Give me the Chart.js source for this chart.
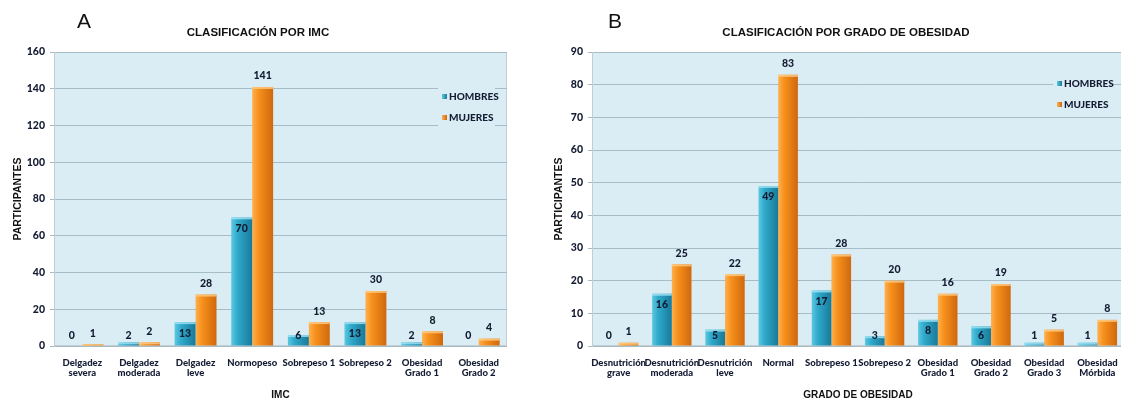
<!DOCTYPE html>
<html lang="es">
<head>
<meta charset="utf-8">
<title>Clasificación por IMC y por grado de obesidad</title>
<script src="https://cdn.jsdelivr.net/npm/chart.js@4.4.1/dist/chart.umd.min.js"></script>
<style>
  html, body { margin: 0; padding: 0; background: #fff; overflow: hidden; width: 1121px; height: 401px; }
  canvas { position: absolute; top: 0; }
  #graficoIMC { left: 0; }
  #graficoObesidad { left: 548px; }
</style>
</head>
<body>
<canvas id="graficoIMC" width="548" height="401"></canvas>
<canvas id="graficoObesidad" width="587" height="401"></canvas>
<script>
// Datos del gráfico A (clasificación por IMC)
const categoriasIMC = [
  ["Delgadez", "severa"], ["Delgadez", "moderada"], ["Delgadez", "leve"], "Normopeso",
  "Sobrepeso 1", "Sobrepeso 2", ["Obesidad", "Grado 1"], ["Obesidad", "Grado 2"]
];
const hombresIMC = [0, 2, 13, 70, 6, 13, 2, 0];
const mujeresIMC = [1, 2, 28, 141, 13, 30, 8, 4];
const ticksIMC = [0, 20, 40, 60, 80, 100, 120, 140, 160];

// Datos del gráfico B (clasificación por grado de obesidad)
const categoriasObesidad = [
  ["Desnutrición", "grave"], ["Desnutrición", "moderada"], ["Desnutrición", "leve"], "Normal",
  "Sobrepeso 1", "Sobrepeso 2", ["Obesidad", "Grado 1"], ["Obesidad", "Grado 2"],
  ["Obesidad", "Grado 3"], ["Obesidad", "Mórbida"]
];
const hombresObesidad = [0, 16, 5, 49, 17, 3, 8, 6, 1, 1];
const mujeresObesidad = [1, 25, 22, 83, 28, 20, 16, 19, 5, 8];
const ticksObesidad = [0, 10, 20, 30, 40, 50, 60, 70, 80, 90];

// Colores y fuentes
const azul = ["#5cc8e2", "#30aacb", "#18799a"];
const naranja = ["#fdb150", "#f7911c", "#cf680d"];
const fondoGrafico = "#dbedf4";
const colorRejilla = "#a6bcc6";
const colorTexto = "#141c33";
const fuenteEstrecha = "Lato, 'DejaVu Sans Condensed', sans-serif";
const fuenteTitulo = "'Liberation Sans', Arial, sans-serif";
const pesoEstrecho = "900";

// Degradado horizontal para dar efecto de cilindro a cada barra
function degradado(c, colores) {
  if (c.type !== "data") return colores[1];
  const el = c.chart.getDatasetMeta(c.datasetIndex).data[c.dataIndex];
  if (!el || !isFinite(el.x) || !el.width) return colores[1];
  const g = c.chart.ctx.createLinearGradient(el.x - el.width / 2, 0, el.x + el.width / 2, 0);
  g.addColorStop(0, colores[0]);
  g.addColorStop(0.3, colores[1]);
  g.addColorStop(1, colores[2]);
  return g;
}

// Fondo del área del gráfico
const pluginFondo = {
  id: "fondo",
  beforeDraw(chart) {
    const { ctx, chartArea: a } = chart;
    ctx.save();
    ctx.fillStyle = fondoGrafico;
    ctx.fillRect(a.left, a.top, a.right - a.left, a.bottom - a.top);
    ctx.strokeStyle = "#c4cdd2";
    ctx.lineWidth = 1;
    ctx.strokeRect(a.left + 0.5, a.top + 0.5, a.right - a.left - 1, a.bottom - a.top - 1);
    ctx.restore();
  }
};

// Tapa clara arriba de cada barra y etiquetas de valores
const pluginEtiquetas = {
  id: "etiquetas",
  afterDatasetsDraw(chart) {
    const ctx = chart.ctx;
    ctx.save();
    chart.data.datasets.forEach((ds, i) => {
      const meta = chart.getDatasetMeta(i);
      meta.data.forEach((bar, j) => {
        const alto = bar.base - bar.y;
        if (alto > 0.5) {
          ctx.fillStyle = i === 0 ? "rgba(160,228,245,0.8)" : "rgba(255,205,135,0.8)";
          ctx.fillRect(bar.x - bar.width / 2, bar.y, bar.width, Math.min(2, alto));
        }
        let y;
        if (i === 0) y = Math.min(bar.y + 11, bar.base - 10);
        else y = bar.y - 11;
        ctx.fillStyle = colorTexto;
        ctx.font = pesoEstrecho + " 10.5px " + fuenteEstrecha;
        ctx.textAlign = "center";
        ctx.textBaseline = "middle";
        ctx.fillText(String(ds.data[j]), bar.x, y);
      });
    });
    ctx.restore();
  }
};

// Letra, título y leyenda dibujados sobre el lienzo
const pluginEncabezado = {
  id: "encabezado",
  afterDraw(chart, args, opts) {
    const ctx = chart.ctx;
    const a = chart.chartArea;
    ctx.save();
    ctx.fillStyle = "#111";
    ctx.textBaseline = "alphabetic";
    ctx.font = "21px " + fuenteTitulo;
    ctx.textAlign = "left";
    ctx.fillText(opts.letra, opts.letraX, 28);
    ctx.font = "bold 11.5px " + fuenteTitulo;
    ctx.textAlign = "center";
    ctx.fillText(opts.titulo, opts.tituloX, 36);

    // leyenda
    const x0 = a.right - opts.leyendaDerecha;
    const y0 = a.top + opts.leyendaArriba;
    ctx.fillStyle = fondoGrafico;
    ctx.fillRect(x0 - 4, y0 - 9, 57, 40);
    [["HOMBRES", azul], ["MUJERES", naranja]].forEach(([texto, col], k) => {
      const y = y0 + k * 21;
      const g = ctx.createLinearGradient(x0, 0, x0 + 5, 0);
      g.addColorStop(0, col[0]);
      g.addColorStop(1, col[2]);
      ctx.fillStyle = g;
      ctx.fillRect(x0, y - 3, 5, 5);
      ctx.fillStyle = colorTexto;
      ctx.font = pesoEstrecho + " 10px " + fuenteEstrecha;
      ctx.textAlign = "left";
      ctx.textBaseline = "middle";
      ctx.fillText(texto, x0 + 7, y);
    });
    ctx.restore();
  }
};

function crearGrafico(id, categorias, hombres, mujeres, ticks, tituloX, extra) {
  const chart = new Chart(document.getElementById(id).getContext("2d"), {
    type: "bar",
    data: {
      labels: categorias,
      datasets: [
        { label: "HOMBRES", data: hombres, backgroundColor: (c) => degradado(c, azul) },
        { label: "MUJERES", data: mujeres, backgroundColor: (c) => degradado(c, naranja) }
      ]
    },
    options: {
      responsive: false,
      animation: false,
      devicePixelRatio: 1,
      categoryPercentage: 0.74,
      barPercentage: 1,
      layout: { padding: extra.padding },
      plugins: {
        legend: { display: false },
        tooltip: { enabled: false },
        encabezado: extra.encabezado
      },
      scales: {
        x: {
          grid: { display: false, drawTicks: false },
          border: { display: false },
          ticks: {
            color: colorTexto,
            padding: 11,
            autoSkip: false,
            maxRotation: 0,
            font: { family: fuenteEstrecha, size: 9.5, weight: pesoEstrecho, lineHeight: 1.15 }
          },
          title: {
            display: true,
            text: tituloX,
            color: "#111",
            padding: { top: 0, bottom: 0 },
            font: { family: fuenteTitulo, size: 10, weight: "bold" }
          },
          afterFit(scale) { scale.height = 55; }
        },
        y: {
          min: 0,
          max: ticks[ticks.length - 1],
          afterBuildTicks(scale) { scale.ticks = ticks.map((v) => ({ value: v })); },
          grid: { color: colorRejilla, tickLength: 4 },
          border: { color: "#c4cdd2" },
          ticks: {
            color: colorTexto,
            padding: 5,
            font: { family: fuenteEstrecha, size: 10.5, weight: pesoEstrecho }
          },
          title: {
            display: true,
            text: "PARTICIPANTES",
            color: "#111",
            padding: { top: 5, bottom: 0 },
            font: { family: fuenteTitulo, size: 10.5, weight: "bold" }
          },
          afterFit(scale) { scale.width = extra.anchoY; }
        }
      }
    },
    plugins: [pluginFondo, pluginEtiquetas, pluginEncabezado]
  });
  // segunda pasada para que los degradados conozcan la posición de cada barra
  chart.update("none");
  return chart;
}

crearGrafico("graficoIMC", categoriasIMC, hombresIMC, mujeresIMC, ticksIMC, "IMC", {
  padding: { left: 7, top: 52, right: 41, bottom: 0 },
  anchoY: 47,
  encabezado: { letra: "A", letraX: 77, titulo: "CLASIFICACIÓN POR IMC", tituloX: 258, leyendaDerecha: 65, leyendaArriba: 45 }
});

crearGrafico("graficoObesidad", categoriasObesidad, hombresObesidad, mujeresObesidad, ticksObesidad, "GRADO DE OBESIDAD", {
  padding: { left: 0, top: 52, right: 11, bottom: 0 },
  anchoY: 44,
  encabezado: { letra: "B", letraX: 60, titulo: "CLASIFICACIÓN POR GRADO DE OBESIDAD", tituloX: 298, leyendaDerecha: 67, leyendaArriba: 32 }
});
</script>
</body>
</html>
